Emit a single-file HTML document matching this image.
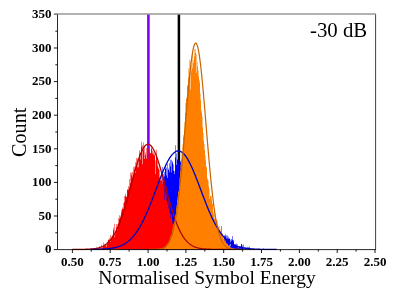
<!DOCTYPE html><html><head><meta charset="utf-8"><style>html,body{margin:0;padding:0;background:#fff}svg{display:block;will-change:transform}.tk{font-family:"Liberation Serif",serif;font-weight:bold;font-size:13px}.ti{font-family:"Liberation Serif",serif;font-size:19.5px}</style></head><body><svg width="395" height="295" viewBox="0 0 395 295">
<line x1="148.4" y1="14.1" x2="148.4" y2="249.4" stroke="#8000ff" stroke-width="2.6"/>
<line x1="178.9" y1="14.1" x2="178.9" y2="249.4" stroke="#000" stroke-width="2.5"/>
<path d="M103.0 249.4V249.4 H103.5V249.4 H104.0V249.4 H104.5V248.5 H105.0V249.4 H105.5V249.4 H106.0V249.4 H106.5V249.4 H107.0V249.4 H107.5V249.4 H108.0V249.4 H108.5V247.6 H109.0V249.4 H109.5V249.4 H110.0V248.5 H110.5V249.4 H111.0V249.4 H111.5V247.9 H112.0V249.4 H112.5V249.4 H113.0V249.4 H113.5V249.4 H114.0V248.2 H114.5V249.4 H115.0V249.4 H115.5V248.4 H116.0V249.4 H116.5V249.4 H117.0V249.4 H117.5V248.0 H118.0V248.0 H118.5V244.8 H119.0V249.4 H119.5V247.2 H120.0V246.7 H120.5V245.1 H121.0V246.1 H121.5V248.0 H122.0V246.5 H122.5V245.5 H123.0V246.6 H123.5V244.6 H124.0V249.4 H124.5V242.3 H125.0V242.5 H125.5V245.6 H126.0V243.5 H126.5V244.3 H127.0V245.8 H127.5V243.6 H128.0V241.2 H128.5V244.0 H129.0V243.6 H129.5V242.6 H130.0V240.9 H130.5V238.3 H131.0V242.8 H131.5V239.3 H132.0V239.6 H132.5V245.0 H133.0V240.5 H133.5V239.1 H134.0V238.3 H134.5V236.6 H135.0V243.6 H135.5V236.2 H136.0V238.1 H136.5V240.1 H137.0V232.6 H137.5V231.1 H138.0V235.4 H138.5V229.1 H139.0V233.0 H139.5V230.5 H140.0V232.7 H140.5V225.0 H141.0V235.2 H141.5V227.6 H142.0V224.5 H142.5V231.2 H143.0V225.1 H143.5V223.8 H144.0V220.1 H144.5V217.8 H145.0V221.8 H145.5V223.8 H146.0V214.0 H146.5V213.3 H147.0V217.7 H147.5V213.9 H148.0V212.6 H148.5V210.7 H149.0V210.8 H149.5V205.3 H150.0V215.4 H150.5V204.0 H151.0V205.2 H151.5V206.2 H152.0V199.6 H152.5V212.0 H153.0V197.0 H153.5V198.8 H154.0V203.6 H154.5V196.0 H155.0V197.7 H155.5V184.2 H156.0V186.0 H156.5V190.7 H157.0V194.5 H157.5V192.6 H158.0V190.3 H158.5V190.1 H159.0V190.4 H159.5V187.8 H160.0V185.2 H160.5V185.1 H161.0V184.8 H161.5V184.8 H162.0V167.0 H162.5V185.3 H163.0V182.0 H163.5V173.9 H164.0V176.6 H164.5V171.9 H165.0V169.0 H165.5V165.7 H166.0V167.4 H166.5V175.4 H167.0V163.9 H167.5V177.9 H168.0V168.6 H168.5V170.0 H169.0V172.3 H169.5V163.0 H170.0V166.5 H170.5V159.7 H171.0V172.4 H171.5V159.7 H172.0V161.2 H172.5V162.8 H173.0V170.8 H173.5V164.4 H174.0V171.1 H174.5V173.9 H175.0V145.2 H175.5V157.5 H176.0V153.2 H176.5V165.1 H177.0V159.2 H177.5V159.4 H178.0V160.1 H178.5V163.5 H179.0V164.9 H179.5V175.0 H180.0V161.1 H180.5V162.5 H181.0V159.2 H181.5V167.0 H182.0V156.9 H182.5V168.8 H183.0V173.5 H183.5V162.7 H184.0V170.6 H184.5V175.2 H185.0V168.8 H185.5V166.2 H186.0V169.6 H186.5V169.0 H187.0V151.6 H187.5V169.0 H188.0V166.2 H188.5V184.6 H189.0V173.8 H189.5V172.6 H190.0V179.1 H190.5V182.5 H191.0V177.3 H191.5V181.6 H192.0V183.9 H192.5V176.7 H193.0V176.8 H193.5V182.7 H194.0V187.2 H194.5V183.8 H195.0V183.4 H195.5V185.4 H196.0V195.8 H196.5V191.8 H197.0V189.8 H197.5V189.8 H198.0V189.5 H198.5V191.4 H199.0V200.5 H199.5V199.8 H200.0V202.9 H200.5V191.6 H201.0V199.3 H201.5V198.9 H202.0V198.1 H202.5V204.5 H203.0V208.8 H203.5V207.0 H204.0V207.0 H204.5V201.9 H205.0V205.3 H205.5V213.4 H206.0V208.1 H206.5V208.9 H207.0V216.1 H207.5V213.8 H208.0V220.6 H208.5V214.2 H209.0V217.2 H209.5V221.5 H210.0V220.2 H210.5V218.1 H211.0V221.4 H211.5V219.6 H212.0V219.6 H212.5V224.6 H213.0V223.7 H213.5V217.3 H214.0V223.9 H214.5V227.4 H215.0V225.5 H215.5V230.0 H216.0V223.9 H216.5V226.6 H217.0V225.3 H217.5V226.4 H218.0V228.3 H218.5V227.4 H219.0V229.9 H219.5V233.5 H220.0V235.4 H220.5V233.6 H221.0V241.9 H221.5V226.0 H222.0V239.6 H222.5V234.0 H223.0V238.9 H223.5V241.7 H224.0V235.2 H224.5V236.4 H225.0V236.3 H225.5V234.3 H226.0V238.5 H226.5V235.6 H227.0V235.6 H227.5V238.6 H228.0V238.8 H228.5V236.7 H229.0V238.5 H229.5V238.5 H230.0V246.3 H230.5V239.5 H231.0V239.0 H231.5V240.8 H232.0V239.8 H232.5V236.0 H233.0V241.2 H233.5V240.1 H234.0V244.2 H234.5V244.5 H235.0V243.9 H235.5V245.4 H236.0V243.4 H236.5V245.7 H237.0V244.3 H237.5V247.2 H238.0V247.9 H238.5V246.1 H239.0V247.1 H239.5V246.5 H240.0V246.6 H240.5V246.4 H241.0V244.2 H241.5V243.9 H242.0V245.2 H242.5V247.1 H243.0V244.5 H243.5V249.4 H244.0V249.4 H244.5V246.9 H245.0V247.4 H245.5V247.7 H246.0V247.6 H246.5V249.4 H247.0V249.4 H247.5V246.7 H248.0V247.1 H248.5V249.4 H249.0V246.5 H249.5V249.4 H250.0V249.4 H250.5V248.3 H251.0V249.4 H251.5V249.4 H252.0V249.4 H252.5V249.4 H253.0V248.2 H253.5V248.5 H254.0V249.4 H254.5V249.4 H255.0V249.4 H255.5V249.4 H256.0V249.4 H256.5V249.4 H257.0V249.4 H257.5V249.4 H258.0V249.4 H258.5V249.4 H259.0V249.4 H259.5V249.4 H260.0V249.4 H260.5V249.4 H261.0V249.4 H261.5V249.4 H262.0V249.4 H262.5V249.4 H263.0V249.4 H263.5V248.3 H264.0V249.4 H264.5V249.4 H265.0V249.4 H265.5V249.4 H266.0V249.4 H266.5V249.4 H267.0V249.4 H267.5V249.4 H268.0V249.4 H268.5V249.4 H269.0V249.4 H269.5V249.4 H270.0V249.4 H270.5V249.4 H271.0V249.4 H271.5V249.4 H272.0V249.4 H272.5V249.4 H273.0V249.4 H273.5V249.4 H274.0V249.4 H274.5V249.4 H275.0V249.4 H275.5V249.4 H276.0V249.4 H276.5V249.4 H277.0V249.4 Z" fill="#0000ff"/>
<path d="M80.0 249.4V249.4 H80.5V249.4 H81.0V249.4 H81.5V249.4 H82.0V249.4 H82.5V249.4 H83.0V249.4 H83.5V249.4 H84.0V249.4 H84.5V249.4 H85.0V249.4 H85.5V249.4 H86.0V249.4 H86.5V249.4 H87.0V249.4 H87.5V249.4 H88.0V249.4 H88.5V249.4 H89.0V249.4 H89.5V249.4 H90.0V249.4 H90.5V249.4 H91.0V249.4 H91.5V249.4 H92.0V249.4 H92.5V249.4 H93.0V249.4 H93.5V249.4 H94.0V249.4 H94.5V249.4 H95.0V249.4 H95.5V249.4 H96.0V249.4 H96.5V249.4 H97.0V249.4 H97.5V248.5 H98.0V249.4 H98.5V248.0 H99.0V246.3 H99.5V247.1 H100.0V248.0 H100.5V249.4 H101.0V248.5 H101.5V244.8 H102.0V246.9 H102.5V247.8 H103.0V246.2 H103.5V242.5 H104.0V245.7 H104.5V244.3 H105.0V244.6 H105.5V245.5 H106.0V246.9 H106.5V244.7 H107.0V243.9 H107.5V241.4 H108.0V240.1 H108.5V239.2 H109.0V240.3 H109.5V237.9 H110.0V242.1 H110.5V235.0 H111.0V236.5 H111.5V238.4 H112.0V234.8 H112.5V235.9 H113.0V230.3 H113.5V227.7 H114.0V223.7 H114.5V237.3 H115.0V234.2 H115.5V230.5 H116.0V227.4 H116.5V224.0 H117.0V224.3 H117.5V230.2 H118.0V223.4 H118.5V218.3 H119.0V218.7 H119.5V215.3 H120.0V217.2 H120.5V215.5 H121.0V212.4 H121.5V209.9 H122.0V208.9 H122.5V207.5 H123.0V208.9 H123.5V202.9 H124.0V202.1 H124.5V196.0 H125.0V193.7 H125.5V196.3 H126.0V197.0 H126.5V196.4 H127.0V189.6 H127.5V189.4 H128.0V189.6 H128.5V185.9 H129.0V187.4 H129.5V179.1 H130.0V183.1 H130.5V172.8 H131.0V175.3 H131.5V172.6 H132.0V180.0 H132.5V171.7 H133.0V167.0 H133.5V174.8 H134.0V169.6 H134.5V166.6 H135.0V173.1 H135.5V162.3 H136.0V158.1 H136.5V166.7 H137.0V158.6 H137.5V167.3 H138.0V158.9 H138.5V167.2 H139.0V150.2 H139.5V153.7 H140.0V155.5 H140.5V159.4 H141.0V146.5 H141.5V141.8 H142.0V164.3 H142.5V145.2 H143.0V142.5 H143.5V150.0 H144.0V159.1 H144.5V146.4 H145.0V152.6 H145.5V155.1 H146.0V158.8 H146.5V147.9 H147.0V146.5 H147.5V155.1 H148.0V148.2 H148.5V158.4 H149.0V146.7 H149.5V151.5 H150.0V153.2 H150.5V153.0 H151.0V147.5 H151.5V148.7 H152.0V150.6 H152.5V153.6 H153.0V154.7 H153.5V152.2 H154.0V155.4 H154.5V153.7 H155.0V160.6 H155.5V174.1 H156.0V155.1 H156.5V149.8 H157.0V161.2 H157.5V165.7 H158.0V167.4 H158.5V168.9 H159.0V169.8 H159.5V177.6 H160.0V176.1 H160.5V180.4 H161.0V175.7 H161.5V180.4 H162.0V178.3 H162.5V183.7 H163.0V179.9 H163.5V185.8 H164.0V178.4 H164.5V199.9 H165.0V196.0 H165.5V191.1 H166.0V186.0 H166.5V200.4 H167.0V201.2 H167.5V204.4 H168.0V200.0 H168.5V208.6 H169.0V206.8 H169.5V212.6 H170.0V218.0 H170.5V214.0 H171.0V215.2 H171.5V214.3 H172.0V220.8 H172.5V224.1 H173.0V222.0 H173.5V224.5 H174.0V226.0 H174.5V228.4 H175.0V226.4 H175.5V229.4 H176.0V224.4 H176.5V229.0 H177.0V232.1 H177.5V241.6 H178.0V234.6 H178.5V236.2 H179.0V236.0 H179.5V236.2 H180.0V241.5 H180.5V238.7 H181.0V243.3 H181.5V237.3 H182.0V246.3 H182.5V247.8 H183.0V247.9 H183.5V246.5 H184.0V247.4 H184.5V241.7 H185.0V246.5 H185.5V249.4 H186.0V244.7 H186.5V247.8 H187.0V249.4 H187.5V246.1 H188.0V246.8 H188.5V248.3 H189.0V246.3 H189.5V248.0 H190.0V246.6 H190.5V247.9 H191.0V247.1 H191.5V249.4 H192.0V249.4 H192.5V247.0 H193.0V249.4 H193.5V249.4 H194.0V249.4 H194.5V249.4 H195.0V249.4 H195.5V249.4 H196.0V249.4 H196.5V248.5 H197.0V249.4 H197.5V249.4 H198.0V249.4 H198.5V249.4 H199.0V249.4 H199.5V249.4 H200.0V249.4 H200.5V249.4 H201.0V249.4 H201.5V249.4 H202.0V249.4 H202.5V249.4 H203.0V249.4 H203.5V249.4 H204.0V249.4 H204.5V249.4 H205.0V249.4 H205.5V249.4 H206.0V249.4 H206.5V249.4 H207.0V249.4 H207.5V249.4 H208.0V249.4 H208.5V249.4 H209.0V249.4 H209.5V249.4 H210.0V249.4 H210.5V249.4 H211.0V249.4 H211.5V249.4 H212.0V249.4 H212.5V249.4 H213.0V249.4 H213.5V249.4 H214.0V249.4 H214.5V249.4 H215.0V249.4 H215.5V249.4 H216.0V249.4 Z" fill="#ff0000"/>
<path d="M156.0 249.4V249.4 H156.5V249.4 H157.0V249.4 H157.5V249.2 H158.0V249.1 H158.5V249.4 H159.0V249.3 H159.5V249.1 H160.0V248.8 H160.5V248.8 H161.0V249.1 H161.5V248.4 H162.0V248.4 H162.5V248.3 H163.0V248.9 H163.5V247.9 H164.0V248.0 H164.5V248.4 H165.0V247.8 H165.5V246.4 H166.0V246.3 H166.5V245.6 H167.0V245.0 H167.5V243.6 H168.0V243.7 H168.5V242.3 H169.0V240.1 H169.5V239.5 H170.0V237.4 H170.5V236.1 H171.0V236.0 H171.5V233.9 H172.0V230.5 H172.5V228.5 H173.0V226.1 H173.5V224.1 H174.0V221.2 H174.5V221.9 H175.0V214.7 H175.5V216.5 H176.0V208.4 H176.5V205.3 H177.0V199.7 H177.5V196.4 H178.0V191.5 H178.5V191.4 H179.0V185.9 H179.5V177.7 H180.0V171.5 H180.5V164.7 H181.0V166.0 H181.5V153.6 H182.0V153.9 H182.5V144.2 H183.0V137.3 H183.5V134.7 H184.0V121.8 H184.5V129.8 H185.0V112.9 H185.5V103.0 H186.0V99.1 H186.5V97.0 H187.0V86.0 H187.5V84.8 H188.0V77.6 H188.5V68.3 H189.0V72.8 H189.5V59.7 H190.0V89.4 H190.5V61.1 H191.0V71.3 H191.5V64.7 H192.0V68.2 H192.5V51.0 H193.0V60.1 H193.5V62.9 H194.0V56.5 H194.5V49.0 H195.0V53.0 H195.5V48.9 H196.0V72.9 H196.5V54.0 H197.0V62.1 H197.5V66.7 H198.0V70.5 H198.5V76.4 H199.0V79.8 H199.5V82.6 H200.0V93.4 H200.5V100.0 H201.0V110.0 H201.5V112.5 H202.0V116.6 H202.5V127.3 H203.0V133.1 H203.5V140.5 H204.0V144.3 H204.5V150.0 H205.0V155.3 H205.5V160.2 H206.0V166.4 H206.5V167.4 H207.0V179.5 H207.5V177.5 H208.0V180.4 H208.5V186.2 H209.0V188.4 H209.5V198.9 H210.0V195.8 H210.5V196.2 H211.0V195.9 H211.5V200.2 H212.0V203.8 H212.5V203.9 H213.0V214.0 H213.5V211.5 H214.0V210.8 H214.5V219.0 H215.0V218.0 H215.5V214.7 H216.0V221.1 H216.5V219.8 H217.0V220.6 H217.5V225.2 H218.0V227.6 H218.5V225.8 H219.0V225.9 H219.5V232.4 H220.0V231.9 H220.5V229.4 H221.0V230.8 H221.5V232.8 H222.0V233.0 H222.5V235.0 H223.0V236.3 H223.5V238.8 H224.0V240.7 H224.5V238.8 H225.0V239.8 H225.5V242.0 H226.0V243.3 H226.5V243.6 H227.0V243.9 H227.5V243.7 H228.0V245.8 H228.5V245.4 H229.0V245.0 H229.5V245.5 H230.0V246.9 H230.5V247.7 H231.0V248.2 H231.5V247.6 H232.0V248.4 H232.5V248.1 H233.0V248.3 H233.5V248.6 H234.0V249.4 H234.5V248.7 H235.0V249.4 H235.5V248.9 H236.0V249.2 H236.5V249.3 H237.0V249.4 H237.5V249.4 H238.0V249.4 H238.5V249.4 H239.0V249.4 H239.5V249.4 H240.0V249.4 H240.5V249.4 H241.0V249.4 H241.5V249.4 H242.0V249.4 H242.5V249.4 H243.0V249.4 H243.5V249.4 H244.0V249.4 H244.5V249.4 H245.0V249.4 H245.5V249.4 H246.0V249.4 Z" fill="#ff8000"/>
<path d="M72.40 249.39 L73.24 249.39 L74.07 249.39 L74.91 249.39 L75.75 249.39 L76.58 249.38 L77.42 249.38 L78.25 249.37 L79.09 249.37 L79.93 249.36 L80.76 249.35 L81.60 249.34 L82.44 249.33 L83.27 249.32 L84.11 249.30 L84.94 249.28 L85.78 249.26 L86.62 249.23 L87.45 249.20 L88.29 249.17 L89.13 249.12 L89.96 249.07 L90.80 249.01 L91.64 248.95 L92.47 248.87 L93.31 248.78 L94.14 248.67 L94.98 248.55 L95.82 248.41 L96.65 248.25 L97.49 248.07 L98.33 247.87 L99.16 247.64 L100.00 247.37 L100.84 247.08 L101.67 246.75 L102.51 246.37 L103.34 245.96 L104.18 245.49 L105.02 244.97 L105.85 244.40 L106.69 243.76 L107.53 243.06 L108.36 242.29 L109.20 241.45 L110.03 240.52 L110.87 239.51 L111.71 238.42 L112.54 237.23 L113.38 235.94 L114.22 234.56 L115.05 233.07 L115.89 231.47 L116.73 229.77 L117.56 227.95 L118.40 226.03 L119.23 223.99 L120.07 221.84 L120.91 219.57 L121.74 217.20 L122.58 214.73 L123.42 212.15 L124.25 209.48 L125.09 206.72 L125.93 203.88 L126.76 200.96 L127.60 197.98 L128.43 194.94 L129.27 191.87 L130.11 188.77 L130.94 185.65 L131.78 182.53 L132.62 179.43 L133.45 176.36 L134.29 173.33 L135.12 170.37 L135.96 167.49 L136.80 164.71 L137.63 162.05 L138.47 159.51 L139.31 157.12 L140.14 154.90 L140.98 152.85 L141.82 151.00 L142.65 149.35 L143.49 147.91 L144.32 146.70 L145.16 145.72 L146.00 144.99 L146.83 144.50 L147.67 144.26 L148.51 144.27 L149.34 144.53 L150.18 145.04 L151.02 145.80 L151.85 146.80 L152.69 148.03 L153.52 149.49 L154.36 151.16 L155.20 153.03 L156.03 155.09 L156.87 157.33 L157.71 159.74 L158.54 162.28 L159.38 164.96 L160.21 167.75 L161.05 170.64 L161.89 173.61 L162.72 176.63 L163.56 179.71 L164.40 182.81 L165.23 185.93 L166.07 189.05 L166.91 192.15 L167.74 195.22 L168.58 198.25 L169.41 201.23 L170.25 204.14 L171.09 206.97 L171.92 209.73 L172.76 212.39 L173.60 214.96 L174.43 217.42 L175.27 219.79 L176.11 222.04 L176.94 224.18 L177.78 226.21 L178.61 228.12 L179.45 229.93 L180.29 231.62 L181.12 233.21 L181.96 234.69 L182.80 236.06 L183.63 237.34 L184.47 238.52 L185.30 239.61 L186.14 240.61 L186.98 241.53 L187.81 242.36 L188.65 243.13 L189.49 243.82 L190.32 244.45 L191.16 245.02 L192.00 245.53 L192.83 246.00 L193.67 246.41 L194.50 246.78 L195.34 247.11 L196.18 247.40 L197.01 247.66 L197.85 247.89 L198.69 248.09 L199.52 248.27 L200.36 248.42 L201.20 248.56 L202.03 248.68 L202.87 248.78 L203.70 248.87 L204.54 248.95 L205.38 249.02 L206.21 249.08 L207.05 249.13 L207.89 249.17 L208.72 249.21 L209.56 249.24 L210.39 249.26 L211.23 249.29 L212.07 249.31 L212.90 249.32 L213.74 249.33 L214.58 249.35 L215.41 249.36 L216.25 249.36 L217.09 249.37 L217.92 249.38 L218.76 249.38 L219.59 249.38 L220.43 249.39 L221.27 249.39 L222.10 249.39 L222.94 249.39 L223.78 249.39 L224.61 249.40 L225.45 249.40 L226.29 249.40 L227.12 249.40 L227.96 249.40 L228.79 249.40 L229.63 249.40 L230.47 249.40 L231.30 249.40 L232.14 249.40 L232.98 249.40 L233.81 249.40 L234.65 249.40 L235.48 249.40 L236.32 249.40 L237.16 249.40 L237.99 249.40 L238.83 249.40" fill="none" stroke="#b00000" stroke-width="1.3"/>
<path d="M90.56 249.35 L91.49 249.35 L92.43 249.34 L93.36 249.33 L94.30 249.31 L95.23 249.30 L96.17 249.28 L97.10 249.26 L98.04 249.24 L98.97 249.21 L99.91 249.19 L100.84 249.15 L101.78 249.11 L102.71 249.07 L103.65 249.02 L104.58 248.96 L105.52 248.90 L106.45 248.83 L107.39 248.75 L108.32 248.66 L109.26 248.55 L110.19 248.44 L111.13 248.31 L112.06 248.16 L113.00 248.00 L113.94 247.82 L114.87 247.62 L115.81 247.40 L116.74 247.15 L117.68 246.88 L118.61 246.58 L119.55 246.25 L120.48 245.89 L121.42 245.50 L122.35 245.06 L123.29 244.59 L124.22 244.08 L125.16 243.52 L126.09 242.91 L127.03 242.25 L127.96 241.54 L128.90 240.77 L129.83 239.95 L130.77 239.06 L131.70 238.11 L132.64 237.10 L133.57 236.02 L134.51 234.87 L135.44 233.64 L136.38 232.35 L137.31 230.98 L138.25 229.53 L139.18 228.01 L140.12 226.41 L141.06 224.73 L141.99 222.98 L142.93 221.15 L143.86 219.25 L144.80 217.28 L145.73 215.24 L146.67 213.13 L147.60 210.96 L148.54 208.73 L149.47 206.44 L150.41 204.11 L151.34 201.73 L152.28 199.31 L153.21 196.87 L154.15 194.40 L155.08 191.91 L156.02 189.42 L156.95 186.93 L157.89 184.45 L158.82 181.98 L159.76 179.55 L160.69 177.15 L161.63 174.81 L162.56 172.52 L163.50 170.29 L164.43 168.15 L165.37 166.09 L166.30 164.13 L167.24 162.28 L168.18 160.54 L169.11 158.92 L170.05 157.43 L170.98 156.09 L171.92 154.88 L172.85 153.83 L173.79 152.94 L174.72 152.21 L175.66 151.64 L176.59 151.24 L177.53 151.01 L178.46 150.95 L179.40 151.07 L180.33 151.35 L181.27 151.81 L182.20 152.43 L183.14 153.21 L184.07 154.16 L185.01 155.26 L185.94 156.51 L186.88 157.90 L187.81 159.43 L188.75 161.09 L189.68 162.87 L190.62 164.76 L191.55 166.75 L192.49 168.84 L193.42 171.01 L194.36 173.25 L195.30 175.56 L196.23 177.93 L197.17 180.34 L198.10 182.78 L199.04 185.25 L199.97 187.74 L200.91 190.23 L201.84 192.72 L202.78 195.20 L203.71 197.67 L204.65 200.10 L205.58 202.51 L206.52 204.87 L207.45 207.19 L208.39 209.46 L209.32 211.67 L210.26 213.82 L211.19 215.91 L212.13 217.93 L213.06 219.88 L214.00 221.75 L214.93 223.56 L215.87 225.28 L216.80 226.94 L217.74 228.51 L218.67 230.01 L219.61 231.43 L220.54 232.78 L221.48 234.05 L222.42 235.25 L223.35 236.38 L224.29 237.44 L225.22 238.43 L226.16 239.36 L227.09 240.22 L228.03 241.03 L228.96 241.78 L229.90 242.47 L230.83 243.11 L231.77 243.70 L232.70 244.25 L233.64 244.75 L234.57 245.21 L235.51 245.63 L236.44 246.01 L237.38 246.36 L238.31 246.68 L239.25 246.97 L240.18 247.24 L241.12 247.47 L242.05 247.69 L242.99 247.88 L243.92 248.05 L244.86 248.21 L245.79 248.35 L246.73 248.48 L247.66 248.59 L248.60 248.69 L249.54 248.77 L250.47 248.85 L251.41 248.92 L252.34 248.98 L253.28 249.04 L254.21 249.08 L255.15 249.13 L256.08 249.16 L257.02 249.20 L257.95 249.22 L258.89 249.25 L259.82 249.27 L260.76 249.29 L261.69 249.30 L262.63 249.32 L263.56 249.33 L264.50 249.34 L265.43 249.35 L266.37 249.36 L267.30 249.36 L268.24 249.37 L269.17 249.37 L270.11 249.38 L271.04 249.38 L271.98 249.38 L272.91 249.39 L273.85 249.39 L274.78 249.39 L275.72 249.39 L276.66 249.39" fill="none" stroke="#0000c0" stroke-width="1.3"/>
<path d="M148.05 249.40 L148.52 249.39 L148.99 249.39 L149.46 249.39 L149.94 249.39 L150.41 249.39 L150.88 249.38 L151.35 249.38 L151.82 249.38 L152.29 249.37 L152.76 249.37 L153.24 249.36 L153.71 249.35 L154.18 249.34 L154.65 249.33 L155.12 249.31 L155.59 249.30 L156.06 249.28 L156.53 249.25 L157.01 249.23 L157.48 249.19 L157.95 249.15 L158.42 249.11 L158.89 249.06 L159.36 249.00 L159.83 248.93 L160.31 248.85 L160.78 248.75 L161.25 248.64 L161.72 248.52 L162.19 248.38 L162.66 248.21 L163.13 248.03 L163.61 247.81 L164.08 247.57 L164.55 247.30 L165.02 246.99 L165.49 246.64 L165.96 246.24 L166.43 245.80 L166.91 245.30 L167.38 244.75 L167.85 244.13 L168.32 243.44 L168.79 242.67 L169.26 241.82 L169.73 240.88 L170.21 239.85 L170.68 238.71 L171.15 237.46 L171.62 236.10 L172.09 234.60 L172.56 232.98 L173.03 231.22 L173.50 229.31 L173.98 227.24 L174.45 225.01 L174.92 222.62 L175.39 220.05 L175.86 217.31 L176.33 214.38 L176.80 211.26 L177.28 207.96 L177.75 204.46 L178.22 200.77 L178.69 196.88 L179.16 192.81 L179.63 188.54 L180.10 184.10 L180.58 179.47 L181.05 174.67 L181.52 169.71 L181.99 164.61 L182.46 159.36 L182.93 153.99 L183.40 148.51 L183.88 142.93 L184.35 137.29 L184.82 131.59 L185.29 125.87 L185.76 120.14 L186.23 114.42 L186.70 108.75 L187.18 103.15 L187.65 97.65 L188.12 92.26 L188.59 87.03 L189.06 81.98 L189.53 77.12 L190.00 72.51 L190.47 68.14 L190.95 64.06 L191.42 60.29 L191.89 56.84 L192.36 53.74 L192.83 51.01 L193.30 48.66 L193.77 46.71 L194.25 45.17 L194.72 44.05 L195.19 43.36 L195.66 43.10 L196.13 43.27 L196.60 43.87 L197.07 44.90 L197.55 46.36 L198.02 48.22 L198.49 50.49 L198.96 53.14 L199.43 56.16 L199.90 59.54 L200.37 63.25 L200.85 67.26 L201.32 71.57 L201.79 76.14 L202.26 80.94 L202.73 85.95 L203.20 91.15 L203.67 96.51 L204.15 101.99 L204.62 107.57 L205.09 113.23 L205.56 118.94 L206.03 124.67 L206.50 130.40 L206.97 136.10 L207.44 141.76 L207.92 147.34 L208.39 152.84 L208.86 158.24 L209.33 163.52 L209.80 168.66 L210.27 173.65 L210.74 178.48 L211.22 183.14 L211.69 187.63 L212.16 191.93 L212.63 196.05 L213.10 199.97 L213.57 203.70 L214.04 207.24 L214.52 210.59 L214.99 213.74 L215.46 216.71 L215.93 219.49 L216.40 222.10 L216.87 224.53 L217.34 226.79 L217.82 228.89 L218.29 230.83 L218.76 232.62 L219.23 234.28 L219.70 235.79 L220.17 237.19 L220.64 238.46 L221.11 239.62 L221.59 240.67 L222.06 241.63 L222.53 242.50 L223.00 243.28 L223.47 243.99 L223.94 244.62 L224.41 245.19 L224.89 245.70 L225.36 246.15 L225.83 246.56 L226.30 246.92 L226.77 247.24 L227.24 247.52 L227.71 247.77 L228.19 247.98 L228.66 248.18 L229.13 248.34 L229.60 248.49 L230.07 248.62 L230.54 248.73 L231.01 248.83 L231.49 248.91 L231.96 248.98 L232.43 249.05 L232.90 249.10 L233.37 249.15 L233.84 249.19 L234.31 249.22 L234.79 249.25 L235.26 249.27 L235.73 249.29 L236.20 249.31 L236.67 249.33 L237.14 249.34 L237.61 249.35 L238.08 249.36 L238.56 249.36 L239.03 249.37 L239.50 249.38 L239.97 249.38 L240.44 249.38 L240.91 249.39 L241.38 249.39 L241.86 249.39" fill="none" stroke="#c86400" stroke-width="1.2"/>
<path d="M57.5 249.6 h-3.6 M57.5 216.0 h-3.6 M57.5 182.4 h-3.6 M57.5 148.8 h-3.6 M57.5 115.2 h-3.6 M57.5 81.6 h-3.6 M57.5 48.0 h-3.6 M57.5 14.4 h-3.6 M57.5 232.8 h-2.2 M57.5 199.2 h-2.2 M57.5 165.6 h-2.2 M57.5 132.0 h-2.2 M57.5 98.4 h-2.2 M57.5 64.8 h-2.2 M57.5 31.2 h-2.2 M72.4 249.4 v3.6 M110.2 249.4 v3.6 M148.1 249.4 v3.6 M185.9 249.4 v3.6 M223.7 249.4 v3.6 M261.5 249.4 v3.6 M299.4 249.4 v3.6 M337.2 249.4 v3.6 M375.0 249.4 v3.6 M91.3 249.4 v2.2 M129.1 249.4 v2.2 M167.0 249.4 v2.2 M204.8 249.4 v2.2 M242.6 249.4 v2.2 M280.4 249.4 v2.2 M318.3 249.4 v2.2 M356.1 249.4 v2.2" stroke="#000" stroke-width="0.9" fill="none"/>
<path d="M54.1 13.9 H375.9" fill="none" stroke="#999" stroke-width="1.5"/>
<path d="M375.6 14.5 V249.6" fill="none" stroke="#000" stroke-width="0.75"/>
<path d="M57.5 14.5 V249.6 H375.9" fill="none" stroke="#000" stroke-width="0.85"/>
<g class="tk" fill="#000">
<text x="51.6" y="253.4" text-anchor="end">0</text>
<text x="51.6" y="219.8" text-anchor="end">50</text>
<text x="51.6" y="186.2" text-anchor="end">100</text>
<text x="51.6" y="152.6" text-anchor="end">150</text>
<text x="51.6" y="119.0" text-anchor="end">200</text>
<text x="51.6" y="85.4" text-anchor="end">250</text>
<text x="51.6" y="51.8" text-anchor="end">300</text>
<text x="51.6" y="18.2" text-anchor="end">350</text>
<text x="72.4" y="265.7" text-anchor="middle">0.50</text>
<text x="110.2" y="265.7" text-anchor="middle">0.75</text>
<text x="148.1" y="265.7" text-anchor="middle">1.00</text>
<text x="185.9" y="265.7" text-anchor="middle">1.25</text>
<text x="223.7" y="265.7" text-anchor="middle">1.50</text>
<text x="261.5" y="265.7" text-anchor="middle">1.75</text>
<text x="299.4" y="265.7" text-anchor="middle">2.00</text>
<text x="337.2" y="265.7" text-anchor="middle">2.25</text>
<text x="375.0" y="265.7" text-anchor="middle">2.50</text>
</g>
<g class="ti" fill="#000">
<text x="207" y="284.3" text-anchor="middle">Normalised Symbol Energy</text>
<text transform="translate(25.9,132.3) rotate(-90)" text-anchor="middle" style="font-size:20.2px">Count</text>
<text x="338.6" y="37.2" text-anchor="middle" style="font-size:20.8px">-30 dB</text>
</g>
</svg></body></html>
